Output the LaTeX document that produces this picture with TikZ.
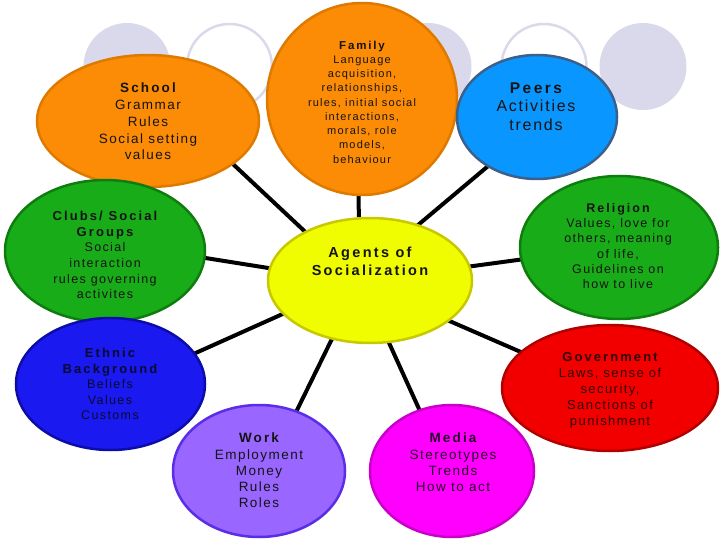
\documentclass[tikz,border=0pt]{standalone}
\usepackage{fontspec}
\setmainfont{Liberation Sans}[LetterSpace=11]
\newfontfamily\ttl{Liberation Sans}[LetterSpace=16]
\usetikzlibrary{shapes.geometric,backgrounds}
\definecolor{lav}{RGB}{217,217,235}
\definecolor{orf}{RGB}{252,140,5}
\definecolor{ord}{RGB}{222,122,0}
\definecolor{pef}{RGB}{10,150,255}
\definecolor{ped}{RGB}{58,96,140}
\definecolor{grf}{RGB}{25,172,25}
\definecolor{grd}{RGB}{14,125,14}
\definecolor{yef}{RGB}{240,252,0}
\definecolor{yed}{RGB}{200,200,0}
\definecolor{blf}{RGB}{26,26,240}
\definecolor{bld}{RGB}{12,12,170}
\definecolor{ref}{RGB}{242,0,0}
\definecolor{red2}{RGB}{176,0,0}
\definecolor{puf}{RGB}{153,102,255}
\definecolor{pud}{RGB}{90,45,230}
\definecolor{maf}{RGB}{255,0,255}
\definecolor{mad}{RGB}{200,0,200}
\tikzset{
  x=1pt, y=-1pt,
  ell/.style={ellipse, draw, line width=2.5pt, inner sep=0pt},
  lnk/.style={line width=4pt, black, shorten <=-4pt, shorten >=-4pt},
  txt/.style={align=center, inner sep=0pt, text=black!92},
  bgfill/.style={circle, inner sep=0pt, minimum size=87pt, fill=lav},
  bgring/.style={circle, inner sep=0pt, minimum size=85pt, draw=lav, line width=2.5pt}
}
\newcommand{\fs}[2]{\fontsize{#1}{#2}\selectfont}
\begin{document}
\begin{tikzpicture}
\useasboundingbox (0,0) rectangle (720,540);
\begin{pgfonlayer}{background}
\node[bgfill] (c1) at (127,66.5) {};
\node[bgring] (c2) at (229.5,66.5) {};
\node[bgfill] (c3) at (428,66.5) {};
\node[bgring] (c4) at (544,66.5) {};
\node[bgfill] (c5) at (643,66.5) {};
\end{pgfonlayer}

% ellipses
\node[ell, fill=orf, draw=ord, minimum width=222pt, minimum height=132pt] (school) at (148,121) {};
\node[ell, fill=orf, draw=ord, minimum width=190pt, minimum height=192pt] (family) at (362,99) {};
\node[ell, fill=pef, draw=ped, minimum width=160pt, minimum height=124pt] (peers) at (537,117) {};
\node[ell, fill=grf, draw=grd, minimum width=200pt, minimum height=142pt] (clubs) at (105,251) {};
\node[ell, fill=grf, draw=grd, minimum width=198pt, minimum height=143pt] (religion) at (619,247.5) {};
\node[ell, fill=blf, draw=bld, minimum width=189pt, minimum height=132pt] (ethnic) at (110.5,384) {};
\node[ell, fill=ref, draw=red2, minimum width=216pt, minimum height=126pt] (government) at (610,388) {};
\node[ell, fill=puf, draw=pud, minimum width=172pt, minimum height=132pt] (work) at (259,471) {};
\node[ell, fill=maf, draw=mad, minimum width=164pt, minimum height=132pt] (media) at (452,471) {};
\node[ell, fill=yef, draw=yed, minimum width=204pt, minimum height=125pt] (agents) at (370,280.5) {};

% texts
\node[txt, font=\fs{13.5}{16.7}] (schooltxt) at (148,121.5)
  {{\ttl\bfseries School}\\Grammar\\Rules\\Social setting\\values};
\node[txt, font=\fs{11}{14.25}] (familytxt) at (362,102)
  {{\ttl\bfseries\fs{11.5}{14.25}Family}\\Language\\acquisition,\\relationships,\\rules, initial social\\interactions,\\morals, role\\models,\\behaviour};
\node[txt, font=\fs{16}{18.5}] (peerstxt) at (536,106.5)
  {{\ttl\bfseries\fs{15.5}{18.5}Peers}\\Activities\\trends};
\node[txt, font=\fs{12.5}{15.6}] (clubstxt) at (105,255)
  {{\ttl\bfseries\fs{13}{15.6}Clubs/ Social}\\{\ttl\bfseries\fs{13}{15.6}Groups}\\Social\\interaction\\rules governing\\activites};
\node[txt, font=\ttl\bfseries\fs{14.5}{18}] (agentstxt) at (370,261)
  {Agents of\\Socialization};
\node[txt, font=\fs{12.5}{15.2}] (religiontxt) at (618,246)
  {{\ttl\bfseries Religion}\\Values, love for\\others, meaning\\of life,\\Guidelines on\\how to live};
\node[txt, font=\fs{12.5}{15.5}, text={rgb,255:red,10;green,10;blue,50}] (ethnictxt) at (110,384)
  {{\ttl\bfseries\fs{13}{15.5}Ethnic}\\{\ttl\bfseries\fs{13}{15.5}Background}\\Beliefs\\Values\\Customs};
\node[txt, font=\fs{13}{16}, text={rgb,255:red,50;green,0;blue,0}] (governmenttxt) at (610,390)
  {{\ttl\bfseries Government}\\Laws, sense of\\security,\\Sanctions of\\punishment};
\node[txt, font=\fs{13.5}{16.3}] (worktxt) at (259,470.5)
  {{\ttl\bfseries Work}\\Employment\\Money\\Rules\\Roles};
\node[txt, font=\fs{13.5}{16.3}, text={rgb,255:red,40;green,0;blue,40}] (mediatxt) at (453,462.5)
  {{\ttl\bfseries Media}\\Stereotypes\\Trends\\How to act};

% connectors
\begin{pgfonlayer}{background}
\draw[lnk] (school.-27.6) -- (agents.143.3);
\draw[lnk] (family.-92) -- (agents.100);
\draw[lnk] (peers.-135.7) -- (agents.49.3);
\draw[lnk] (clubs.-4) -- (agents.173);
\draw[lnk] (religion.187.5) -- (agents.8.4);
\draw[lnk] (ethnic.20.9) -- (agents.201.5);
\draw[lnk] (government.158.4) -- (agents.-27.7);
\draw[lnk] (work.58.2) -- (agents.237);
\draw[lnk] (media.118.7) -- (agents.-73.8);
\end{pgfonlayer}
\end{tikzpicture}
\end{document}
